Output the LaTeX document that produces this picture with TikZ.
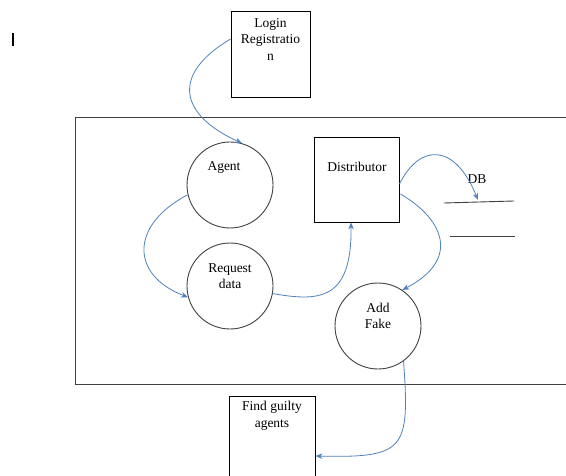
\documentclass[tikz,border=0pt]{standalone}
\usepackage{fontspec}
\setmainfont{Liberation Serif}
\usetikzlibrary{arrows.meta}
\definecolor{flow}{RGB}{79,129,189}
\definecolor{edge}{RGB}{64,64,64}
\begin{document}
\begin{tikzpicture}[x=1pt,y=-1pt,
  box/.style={draw=black,line width=0.9pt,inner sep=0pt},
  proc/.style={circle,draw=edge,line width=0.9pt,minimum size=86pt,inner sep=0pt},
  txt/.style={font=\fontsize{13.5}{16.5}\selectfont,align=center,inner sep=0pt},
  flowline/.style={draw=flow,line width=0.8pt,-{Stealth[length=7pt,width=5.5pt]}}]
\useasboundingbox (0,0) rectangle (566,476);
\clip (0,0) rectangle (566,476);
% cursor mark
\draw[line width=1.8pt] (13,33) -- (13,46);
% system boundary
\draw[draw=edge,line width=0.9pt] (570,117) -- (75,117) -- (75,384) -- (570,384);
% boxes
\node[box,minimum width=79pt,minimum height=86pt] (login) at (270.5,54) {};
\node[txt,anchor=north] at (270.5,18) {Login\\Registratio\\n};
\node[box,minimum width=85pt,minimum height=85pt] (dist) at (356.5,179.5) {};
\node[txt] at (357,167) {Distributor};
\node[box,minimum width=86pt,minimum height=110pt] (fga) at (272,451) {};
\node[txt,anchor=north] at (272,401) {Find guilty\\agents};
% processes
\node[proc] (agent) at (230,185) {};
\node[txt] at (224,168) {Agent};
\node[proc] (req) at (230,286) {};
\node[txt] at (230,276) {Request\\data};
\node[proc] (fake) at (378,326) {};
\node[txt] at (378,316) {Add\\Fake};
% data store
\node[txt] (db) at (477,179) {DB};
\coordinate (dbA) at (444,203);
\coordinate (dbB) at (514,201);
\coordinate (dbC) at (450,236);
\coordinate (dbD) at (515,236);
\draw[draw=edge,line width=0.9pt] (dbA) -- (dbB);
\draw[draw=edge,line width=0.9pt] (dbC) -- (dbD);
\coordinate (dbin) at (478,200);
% flows
\path[flowline] ([yshift=15pt]login.west) .. controls (170,75) and (180,115) .. (agent.74);
\path[flowline] (agent.193) .. controls (130,225) and (130,275) .. (req.195);
\path[flowline] (req.350) .. controls (320,302) and (352,300) .. ([xshift=-5.5pt]dist.south);
\path[flowline] ([yshift=-4.5pt]dist.east) .. controls (420,143) and (455,143) .. (dbin);
\path[flowline] ([yshift=-14.5pt,xshift=1pt]dist.east) .. controls (445,220) and (460,260) .. (fake.56);
\path[flowline] (fake.-54) .. controls (410,450) and (405,458) .. ([yshift=-5pt]fga.east);
\end{tikzpicture}
\end{document}
